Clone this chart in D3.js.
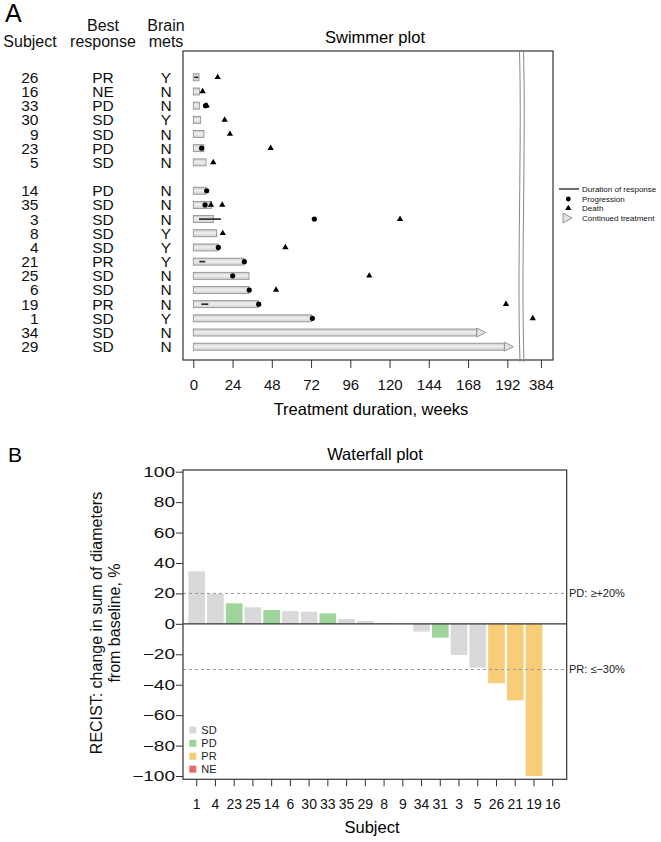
<!DOCTYPE html>
<html><head><meta charset="utf-8">
<script src="https://cdn.jsdelivr.net/npm/d3@7"></script>
<style>body{margin:0;background:#fff} svg{display:block;font-family:"Liberation Sans",Arial,sans-serif}</style>
</head><body><svg id="c" width="661" height="842"></svg>
<script>
// ---------- Swimmer plot data ----------
const subjects     = ["26","16","33","30","9","23","5","14","35","3","8","4","21","25","6","19","1","34","29"];
const bestResponse = ["PR","NE","PD","SD","SD","PD","SD","PD","SD","SD","SD","SD","PR","SD","SD","PR","SD","SD","SD"];
const brainMets    = ["Y","N","N","Y","N","N","N","N","N","N","Y","Y","Y","N","N","N","Y","N","N"];
const groupOf      = [1,1,1,1,1,1,1,2,2,2,2,2,2,2,2,2,2,2,2];
const durationWeeks= [3.5,3.7,3.7,4.5,6.5,6.5,7.8,7.8,11.2,12.2,14.3,15.3,31,34.1,34.1,39.8,72.4,173.3,190.2];
const progSubjects = ["33","23","14","35","3","4","21","25","6","19","1"];
const progWeeks    = [7.5,5.1,8.2,7.2,74,15.3,31.2,24.1,34.2,40,72.8];
const deathSubjects= ["26","16","33","30","9","23","5","35","35","3","8","4","25","6","19","1"];
const deathWeeks   = [14.9,5.7,8.2,19.2,22.4,47.3,12.2,10.8,17.7,126.4,18,56.3,107.6,50.6,191.2,379];
const respSubjects = ["26","3","21","19"];
const respStart    = [0.6,3.5,3.7,4.9];
const respEnd      = [3.1,16.9,7.3,9.2];
const contSubjects = ["34","29"];
const xTicks       = [0,24,48,72,96,120,144,168,192,384];
const legendItems  = ["Duration of response","Progression","Death","Continued treatment"];

// ---------- Waterfall data ----------
const wfSubjects = ["1","4","23","25","14","6","30","33","35","29","8","9","34","31","3","5","26","21","19","16"];
const wfChange   = [34.5,19.8,13.5,10.9,9.1,8.4,8.0,6.9,3.2,1.9,0.5,0,-5.1,-9.1,-20.5,-28.8,-39.1,-50.3,-100,0];
const wfResponse = ["SD","SD","PD","SD","PD","SD","SD","PD","SD","SD","SD","SD","SD","PD","SD","SD","PR","PR","PR","NE"];
const wfCategories = ["SD","PD","PR","NE"];
const wfColors     = ["#d9d9d9","#9fd49b","#f7cd78","#e8696b"];
const yTicksW      = [-100,-80,-60,-40,-20,0,20,40,60,80,100];

const svg = d3.select("#c");
const FONT = '"Liberation Sans",Arial,sans-serif';

// ================= SWIMMER =================
const sx0 = 183, sx1 = 553, sy0 = 51, sy1 = 360;
const xS = d3.scaleLinear().domain([0,200,374,394]).range([193.3,520.4,524.6,557.3]);
const slot = subjects.map((s,i)=> i + (groupOf[i]===2 ? 1 : 0));
const yRow = d3.scaleLinear().domain([0,19]).range([77.3,346.7]);
const rowY = s => yRow(slot[subjects.indexOf(s)]);

svg.append("text").attr("x",5).attr("y",22).attr("font-size",25).text("A");

// headers
const hdr = svg.append("g").attr("font-size",16).attr("fill","#111");
hdr.append("text").attr("x",30).attr("y",47).attr("text-anchor","middle").text("Subject");
hdr.append("text").attr("x",103).attr("y",31).attr("text-anchor","middle").text("Best");
hdr.append("text").attr("x",103).attr("y",47).attr("text-anchor","middle").text("response");
hdr.append("text").attr("x",166).attr("y",31).attr("text-anchor","middle").text("Brain");
hdr.append("text").attr("x",166).attr("y",47).attr("text-anchor","middle").text("mets");

svg.append("text").attr("x",375).attr("y",43).attr("text-anchor","middle").attr("font-size",16.5).text("Swimmer plot");

// row labels
const rl = svg.append("g").attr("font-size",15.5).attr("fill","#111");
subjects.forEach((s,i)=>{
  const y = yRow(slot[i]) + 5.5;
  rl.append("text").attr("x",38.5).attr("y",y).attr("text-anchor","end").text(s);
  rl.append("text").attr("x",103).attr("y",y).attr("text-anchor","middle").text(bestResponse[i]);
  rl.append("text").attr("x",166).attr("y",y).attr("text-anchor","middle").text(brainMets[i]);
});

// gradient
const defs = svg.append("defs");
const gr = defs.append("linearGradient").attr("id","barg").attr("x1",0).attr("y1",0).attr("x2",0).attr("y2",1);
gr.append("stop").attr("offset","0%").attr("stop-color","#c8c8c8");
gr.append("stop").attr("offset","45%").attr("stop-color","#f0f0f0");
gr.append("stop").attr("offset","100%").attr("stop-color","#cfcfcf");

// box
svg.append("rect").attr("x",sx0).attr("y",sy0).attr("width",sx1-sx0).attr("height",sy1-sy0)
  .attr("fill","none").attr("stroke","#333").attr("stroke-width",1.2);

// bars
const bh = 7;
svg.append("g").selectAll("rect").data(subjects).join("rect")
  .attr("x",xS(0)).attr("y",(d,i)=>yRow(slot[i])-bh/2)
  .attr("width",(d,i)=>xS(durationWeeks[i])-xS(0)).attr("height",bh)
  .attr("fill","url(#barg)").attr("stroke","#8a8a8a").attr("stroke-width",0.8);

// continued arrows
svg.append("g").selectAll("path").data(contSubjects).join("path")
  .attr("d",s=>{const i=subjects.indexOf(s);const x=xS(durationWeeks[i]);const y=rowY(s);
     return `M${x},${y-4.5}L${x+9},${y}L${x},${y+4.5}Z`;})
  .attr("fill","#e4e4e4").attr("stroke","#8a8a8a").attr("stroke-width",0.9);

// response lines
svg.append("g").selectAll("line").data(respSubjects).join("line")
  .attr("x1",(s,i)=>xS(respStart[i])).attr("x2",(s,i)=>xS(respEnd[i]))
  .attr("y1",s=>rowY(s)).attr("y2",s=>rowY(s))
  .attr("stroke","#222").attr("stroke-width",1.6);

// progression dots
svg.append("g").selectAll("circle").data(progSubjects).join("circle")
  .attr("cx",(s,i)=>xS(progWeeks[i])).attr("cy",s=>rowY(s)).attr("r",2.6).attr("fill","#000");

// death triangles
const tri = d3.symbol().type(d3.symbolTriangle).size(17);
svg.append("g").selectAll("path").data(deathSubjects).join("path")
  .attr("d",tri).attr("transform",(s,i)=>`translate(${xS(deathWeeks[i])},${rowY(s)})`).attr("fill","#000");

// axis break
[520,524].forEach(bx=>{
  svg.append("path").attr("d",`M${bx-0.5},${sy0}C${bx+2},${sy0+90} ${bx-3},${sy0+220} ${bx},${sy1+2}`)
    .attr("fill","none").attr("stroke","#888").attr("stroke-width",1);
});

// x axis
const ax = svg.append("g").attr("transform",`translate(0,${sy1})`)
  .call(d3.axisBottom(xS).tickValues(xTicks).tickSize(8).tickPadding(11).tickFormat(d3.format("d")));
ax.select(".domain").remove();
ax.selectAll("line").attr("stroke","#333");
ax.selectAll("text").attr("font-size",15).attr("font-family",FONT).attr("fill","#111");
svg.append("text").attr("x",371).attr("y",415).attr("text-anchor","middle").attr("font-size",16.5).text("Treatment duration, weeks");

// legend
const lg = svg.append("g").attr("font-size",8).attr("fill","#111");
const ly = [189,199,208.3,218];
lg.append("line").attr("x1",559).attr("x2",579).attr("y1",ly[0]).attr("y2",ly[0]).attr("stroke","#222").attr("stroke-width",1.3);
lg.append("circle").attr("cx",568.3).attr("cy",ly[1]).attr("r",2.4).attr("fill","#000");
lg.append("path").attr("d",tri).attr("transform",`translate(568.3,${ly[2]})`).attr("fill","#000");
lg.append("path").attr("d",`M563,${ly[3]-5}L572,${ly[3]}L563,${ly[3]+5}Z`).attr("fill","#e4e4e4").attr("stroke","#8a8a8a").attr("stroke-width",0.9);
legendItems.forEach((t,i)=>lg.append("text").attr("x",582).attr("y",ly[i]+3).text(t));

// ================= WATERFALL =================
const wx0 = 183, wx1 = 566.7, wy0 = 470, wy1 = 779.3;
svg.append("text").attr("x",8).attr("y",462).attr("font-size",21).text("B");
svg.append("text").attr("x",375).attr("y",460).attr("text-anchor","middle").attr("font-size",16.5).text("Waterfall plot");

const yW = d3.scaleLinear().domain([-100,100]).range([776,471.7]);
const xW = d3.scaleBand().domain(wfSubjects).range([187.33,562.07]).paddingInner(0.11).paddingOuter(0.055);
const color = d3.scaleOrdinal().domain(wfCategories).range(wfColors);

// bars
svg.append("g").selectAll("rect").data(wfSubjects).join("rect")
  .attr("x",d=>xW(d)).attr("width",xW.bandwidth())
  .attr("y",(d,i)=>yW(Math.max(0,wfChange[i])))
  .attr("height",(d,i)=>Math.abs(yW(wfChange[i])-yW(0)))
  .attr("fill",(d,i)=>color(wfResponse[i]));

// reference lines
[[20,"PD: \u2265+20%"],[-30,"PR: \u2264\u221230%"]].forEach(([v,t])=>{
  svg.append("line").attr("x1",wx0).attr("x2",wx1).attr("y1",yW(v)).attr("y2",yW(v))
    .attr("stroke","#999").attr("stroke-width",1).attr("stroke-dasharray","3,3");
  svg.append("text").attr("x",569).attr("y",yW(v)+4).attr("font-size",11).attr("fill","#222").text(t);
});
// zero line
svg.append("line").attr("x1",wx0).attr("x2",wx1).attr("y1",yW(0)).attr("y2",yW(0)).attr("stroke","#333").attr("stroke-width",1.2);

// box
svg.append("rect").attr("x",wx0).attr("y",wy0).attr("width",wx1-wx0).attr("height",wy1-wy0)
  .attr("fill","none").attr("stroke","#333").attr("stroke-width",1.2);

// y axis
const ay = svg.append("g").attr("transform",`translate(${wx0},0)`)
  .call(d3.axisLeft(yW).tickValues(yTicksW).tickSize(7).tickPadding(1));
ay.select(".domain").remove();
ay.selectAll("line").attr("stroke","#333");
ay.selectAll("text").attr("font-size",14).attr("font-family",FONT).attr("fill","#111")
  .attr("x",0).attr("transform","translate(-8,0) scale(1.36,1)");

// x axis
const axw = svg.append("g").attr("transform",`translate(0,${wy1})`)
  .call(d3.axisBottom(xW).tickSize(7).tickPadding(13));
axw.select(".domain").remove();
axw.selectAll("line").attr("stroke","#333");
axw.selectAll("text").attr("font-size",14).attr("font-family",FONT).attr("fill","#111");
svg.append("text").attr("x",372).attr("y",833).attr("text-anchor","middle").attr("font-size",16.5).text("Subject");

// y label
const yl = svg.append("g").attr("font-size",16).attr("text-anchor","middle").attr("fill","#111");
yl.append("text").attr("transform","translate(102,623) rotate(-90)").text("RECIST: change in sum of diameters");
yl.append("text").attr("transform","translate(119.5,623) rotate(-90)").text("from baseline, %");

// legend
const wl = svg.append("g").attr("font-size",11).attr("fill","#222");
const wly = [730,743.3,756.3,769.2];
wfCategories.forEach((c,i)=>{
  wl.append("rect").attr("x",189.3).attr("y",wly[i]-3.5).attr("width",7).attr("height",7).attr("fill",wfColors[i]);
  wl.append("text").attr("x",201.3).attr("y",wly[i]+4).text(c);
});
</script></body></html>
